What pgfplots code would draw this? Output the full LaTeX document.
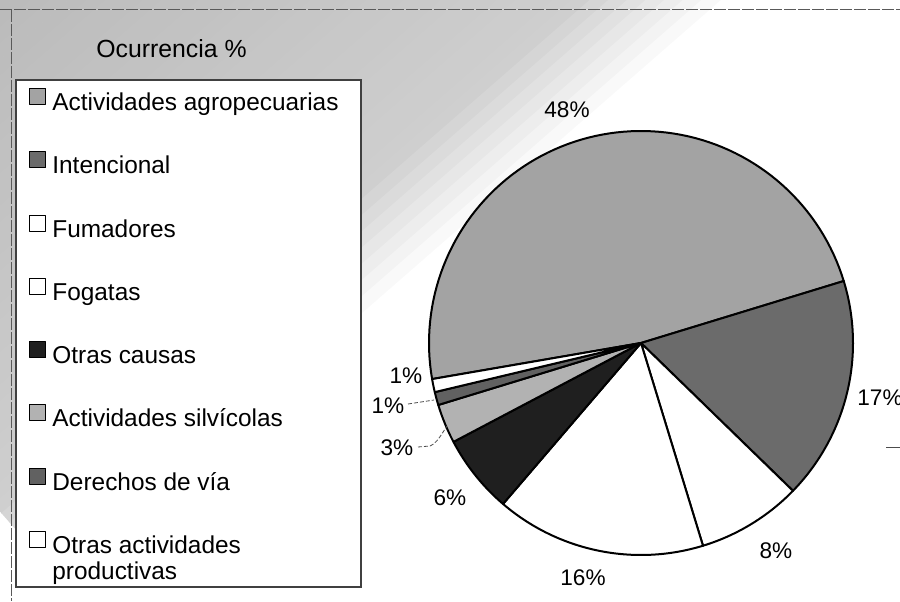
\documentclass[border=0pt]{standalone}
\usepackage{pgfplots}
\pgfplotsset{compat=1.18}
\usepackage{fontspec}
\setmainfont{Liberation Sans}
\definecolor{agro}{gray}{0.64}
\definecolor{inten}{gray}{0.42}
\definecolor{otrasc}{gray}{0.12}
\definecolor{silv}{gray}{0.70}
\definecolor{derech}{gray}{0.38}

\newcommand\startangle{189.8}
\newcommand{\pieslice}[3]{%
  \pgfmathsetmacro{\endangle}{\startangle-3.6*#1}%
  \edef\doslice{\noexpand\addplot[fill=#2, draw=black, line width=1pt, line join=round, domain=\endangle:\startangle, samples=90] ({641+212*cos(x)},{258+212*sin(x)}) -- (axis cs:641,258) -- cycle;}%
  \doslice
  \addlegendentry{#3}%
  \global\let\startangle\endangle
}

\begin{document}
\begin{tikzpicture}
% background halftone gradient (top-left), in pt, y up
\begin{scope}
  \clip (0,0) rectangle (450pt,300.5pt);
  \begin{scope}[shift={(270pt,222pt)}, rotate=-48.9]
    \foreach \i in {0,...,39} {
      \pgfmathsetmacro{\shadeval}{\i<32 ? 27-0.25*\i : (27-8)*(40-\i)/8}
      \fill[black!\shadeval] ({-245pt+6.125pt*\i},-320pt) rectangle ({-245pt+6.125pt*(\i+1)+0.3pt},320pt);
    }
  \end{scope}
\end{scope}
\begin{scope}[x=0.5pt,y=-0.5pt,yshift=300.5pt]
  \draw[black!65, line width=0.5pt, dash pattern=on 6pt off 1pt] (0,10) -- (900,10);
  \draw[black!65, line width=0.5pt, dash pattern=on 6pt off 1pt] (11,10) -- (11,601);
  \fill[white] (16,80) rectangle (361,587);
  \draw[black!75, line width=0.6pt] (16,80) rectangle (361,587);
\end{scope}

\begin{axis}[
  at={(0,0)}, anchor=south west,
  scale only axis, width=450pt, height=300.5pt,
  xmin=0, xmax=900, ymin=0, ymax=601,
  hide axis, clip=false,
  legend cell align=left,
  legend image code/.code={\draw[#1, line width=0.5pt] (0pt,-0.5pt) rectangle (8pt,7.5pt);},
  legend style={at={(0.0322,0.8544)}, anchor=north west, draw=none, fill=none,
    inner sep=0pt, row sep=17.4pt, column sep=3pt,
    font=\fontsize{12.2}{13}\selectfont,
    nodes={inner sep=0pt, text height=10pt, text depth=3pt}},
]
\pieslice{48}{agro}{Actividades agropecuarias}
\pieslice{17}{inten}{Intencional}
\pieslice{8}{white}{Fumadores}
\pieslice{16}{white}{Fogatas}
\pieslice{6}{otrasc}{Otras causas}
\pieslice{3}{silv}{Actividades silvícolas}
\pieslice{1}{derech}{Derechos de vía}
\pieslice{1}{white}{\begin{tabular}[t]{@{}l@{}}Otras actividades\\productivas\end{tabular}}
\end{axis}

\begin{scope}[x=0.5pt,y=-0.5pt,yshift=300.5pt]
  \node[anchor=base west, inner sep=0pt, font=\fontsize{12.4}{14}\selectfont] at (96,58) {Ocurrencia \%};
  \begin{scope}[every node/.style={inner sep=0pt, font=\fontsize{11.3}{13}\selectfont}]
    \node[anchor=base] at (567,118) {48\%};
    \node[anchor=base west] at (857,405) {17\%};
    \node[anchor=base] at (776,558) {8\%};
    \node[anchor=base] at (583,585) {16\%};
    \node[anchor=base] at (450,505) {6\%};
    \node[anchor=base] at (406,383) {1\%};
    \node[anchor=base] at (388,413) {1\%};
    \node[anchor=base] at (397,455) {3\%};
  \end{scope}
  \draw[black!70, line width=0.4pt, dash pattern=on 2pt off 1pt] (408,404) -- (434,400);
  \draw[black!70, line width=0.4pt, dash pattern=on 2pt off 1pt] (418,447) -- (430,446) .. controls (437,443) and (441,435) .. (447,426);
  \draw[black!70, line width=0.4pt] (886,447) -- (900,447);
\end{scope}
\pgfresetboundingbox
\useasboundingbox (0,0) rectangle (450pt,300.5pt);
\end{tikzpicture}
\end{document}
